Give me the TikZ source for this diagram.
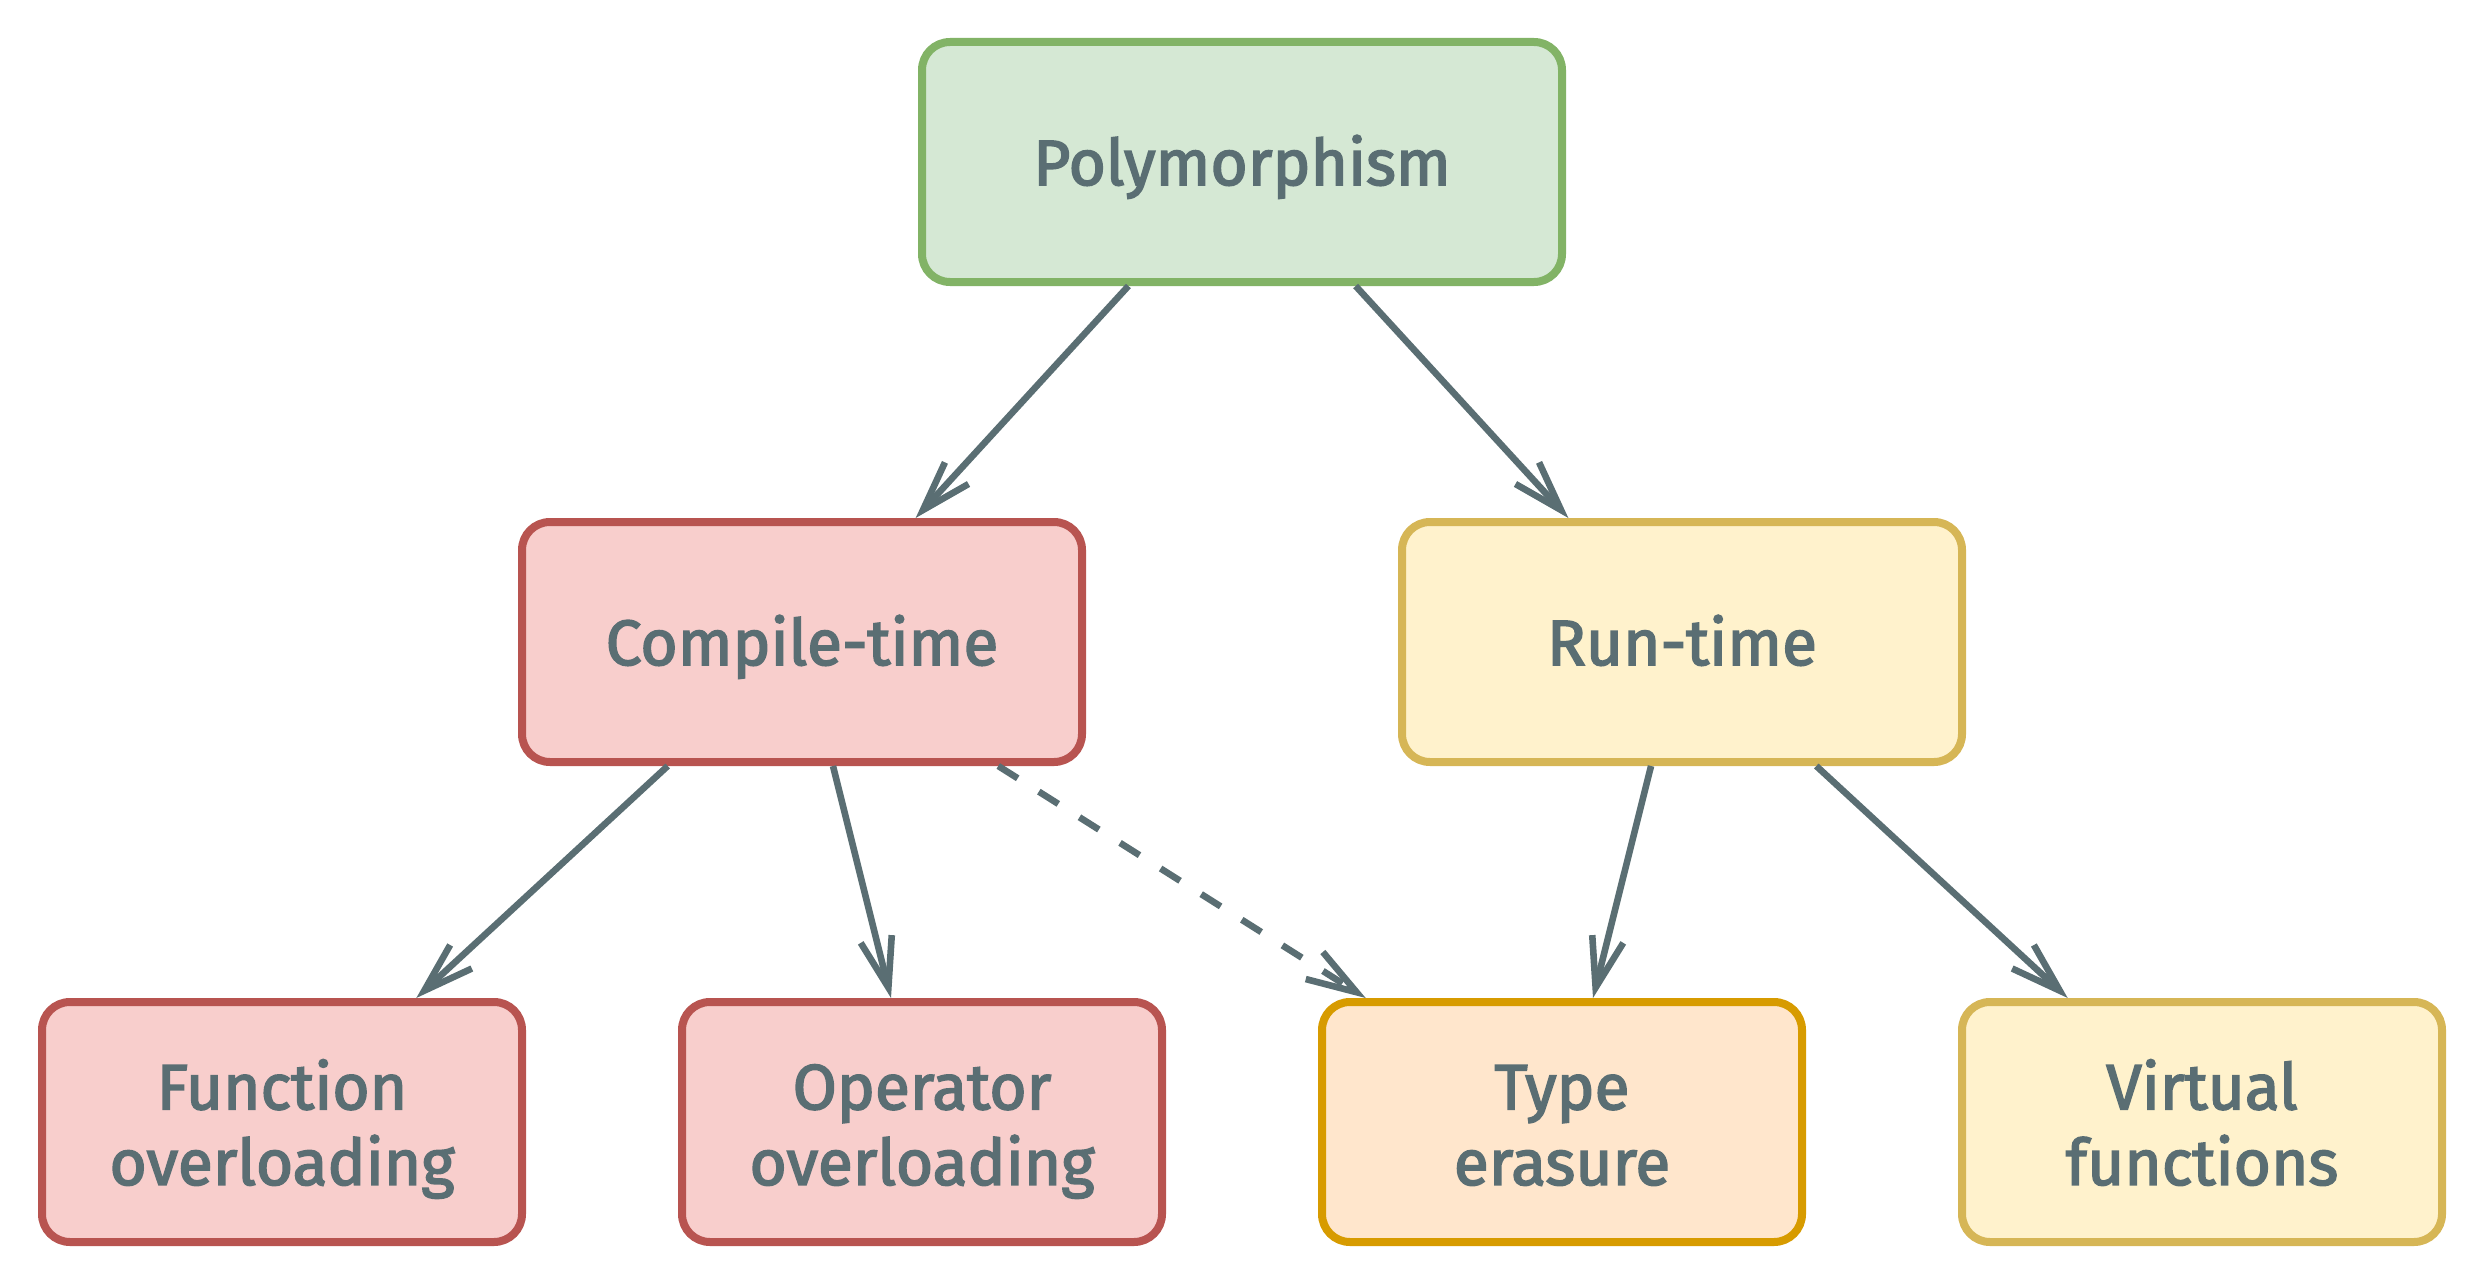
\documentclass[tikz,border=0pt]{standalone}
\usepackage{fontspec}
\setmainfont{Fira Sans}[FakeBold=2.5]
\usetikzlibrary{arrows.meta}
\definecolor{ink}{HTML}{5A6E73}
\definecolor{gfill}{HTML}{D5E8D4}\definecolor{gline}{HTML}{82B366}
\definecolor{rfill}{HTML}{F8CECC}\definecolor{rline}{HTML}{B85450}
\definecolor{yfill}{HTML}{FFF2CC}\definecolor{yline}{HTML}{D6B656}
\definecolor{ofill}{HTML}{FFE6CC}\definecolor{oline}{HTML}{D79B00}
\newcommand{\onel}[1]{\raisebox{-11.5pt}[0pt][0pt]{#1}}
\newcommand{\twol}[2]{\raisebox{6.35pt}[0pt][0pt]{\begin{tabular}[t]{@{}c@{}}#1\\#2\end{tabular}}}
\begin{document}
\begin{tikzpicture}[x=0.5pt,y=-0.5pt,
  box/.style={draw, rounded corners=14pt, line width=4pt, minimum height=120pt,
    text=ink, inner sep=0pt, font=\fontsize{32}{37.8}\selectfont},
  topbox/.style={box, minimum width=320pt, fill=gfill, draw=gline},
  midred/.style={box, minimum width=280pt, fill=rfill, draw=rline},
  midyel/.style={box, minimum width=280pt, fill=yfill, draw=yline},
  leafred/.style={box, minimum width=240pt, fill=rfill, draw=rline},
  leafyel/.style={box, minimum width=240pt, fill=yfill, draw=yline},
  leaforg/.style={box, minimum width=240pt, fill=ofill, draw=oline},
  conn/.style={draw=ink, line width=3.3pt, -{Straight Barb[length=25pt,width=16pt]}},
  dconn/.style={conn, dash pattern=on 11.5pt off 12.5pt}]
\useasboundingbox (0,0) rectangle (2484,1284);
\node[topbox] (poly) at (1242,162) {\onel{Polymorphism}};
\node[midred] (ct) at (802,642) {\onel{Compile-time}};
\node[midyel] (rt) at (1682,642) {\onel{Run-time}};
\node[leafred] (fo) at (282,1122) {\twol{Function}{overloading}};
\node[leafred] (oo) at (922,1122) {\twol{Operator}{overloading}};
\node[leaforg] (te) at (1562,1122) {\twol{Type}{erasure}};
\node[leafyel] (vf) at (2202,1122) {\twol{Virtual}{functions}};
\draw[conn] (poly) -- (ct);
\draw[conn] (poly) -- (rt);
\draw[conn] (ct) -- (fo);
\draw[conn] (ct) -- (oo);
\draw[dconn] (ct) -- (te);
\draw[conn] (rt) -- (te);
\draw[conn] (rt) -- (vf);
\end{tikzpicture}
\end{document}
